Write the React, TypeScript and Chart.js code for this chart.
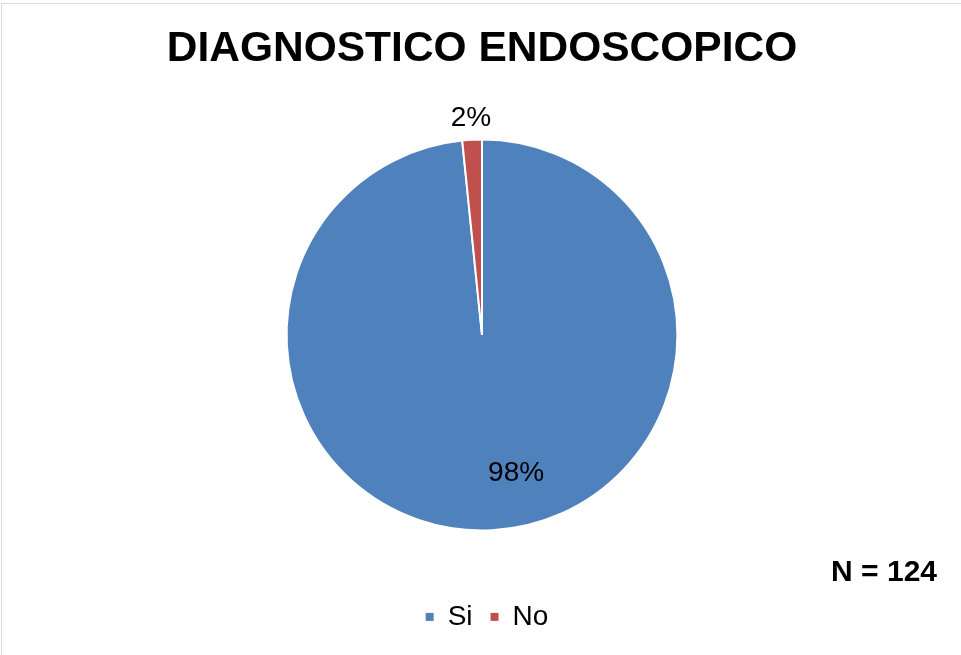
import React, { useEffect, useRef } from "react";
import { Chart, registerables } from "chart.js";

Chart.register(...registerables);

// ---- data ----
const categories = ["Si", "No"];
const counts = [122, 2];
const sliceColors = ["#4F81BD", "#C0504D"];
const chartTitle = "DIAGNOSTICO ENDOSCOPICO";
const sampleNote = "N = 124";

const FONT = "'Liberation Sans', Arial, Helvetica, sans-serif";

const framePlugin = {
  id: "frame",
  beforeDraw(chart: any) {
    const ctx = chart.ctx;
    ctx.save();
    ctx.fillStyle = "#d9d9d9";
    ctx.fillRect(1, 3, chart.width - 1, 1);
    ctx.fillRect(1, 3, 1, chart.height - 3);
    ctx.restore();
  },
};

// nudge the legend block slightly to the right, as in the reference
const legendShiftPlugin = {
  id: "legendShift",
  afterLayout(chart: any) {
    if (chart.legend) {
      chart.legend.left += 5;
      chart.legend.right += 5;
    }
  },
};

const pctLabelPlugin = {
  id: "pctLabels",
  afterDatasetsDraw(chart: any) {
    const ctx = chart.ctx;
    const meta = chart.getDatasetMeta(0);
    const values = chart.data.datasets[0].data as number[];
    const total = values.reduce((a: number, b: number) => a + b, 0);
    ctx.save();
    ctx.font = `28px ${FONT}`;
    ctx.fillStyle = "#000000";
    ctx.textAlign = "center";
    ctx.textBaseline = "middle";
    meta.data.forEach((el: any, i: number) => {
      const { x, y, startAngle, endAngle, outerRadius } = el.getProps(
        ["x", "y", "startAngle", "endAngle", "outerRadius"],
        true
      );
      const share = values[i] / total;
      const mid = (startAngle + endAngle) / 2;
      let ang: number;
      let dist: number;
      if (share > 0.5) {
        ang = mid - (11 * Math.PI) / 180;
        dist = outerRadius * 0.727;
      } else {
        ang = mid;
        dist = outerRadius + 22;
      }
      ctx.fillText(
        Math.round(share * 100) + "%",
        x + Math.cos(ang) * dist,
        y + Math.sin(ang) * dist
      );
    });
    ctx.restore();
  },
};

export default function App() {
  const canvasRef = useRef<HTMLCanvasElement | null>(null);

  useEffect(() => {
    if (!canvasRef.current) return;
    const chart = new Chart(canvasRef.current, {
      type: "pie",
      data: {
        labels: categories,
        datasets: [
          {
            data: counts,
            backgroundColor: sliceColors,
            borderColor: "#ffffff",
            borderWidth: 2,
            hoverBorderWidth: 2,
            hoverOffset: 0,
          },
        ],
      },
      options: {
        responsive: false,
        animation: false,
        devicePixelRatio: 1,
        events: [],
        layout: { padding: { left: 27, right: 24, top: 0, bottom: 14.1 } },
        plugins: {
          title: {
            display: true,
            text: chartTitle,
            color: "#000000",
            font: { family: FONT, size: 42.5, weight: "bold", lineHeight: 1.2 },
            padding: { top: 23.8, bottom: 63.8 },
          },
          subtitle: {
            display: true,
            text: sampleNote,
            position: "bottom",
            align: "end",
            weight: 500,
            color: "#000000",
            font: { family: FONT, size: 30, weight: "bold", lineHeight: 0.8 },
            padding: { top: 29.5, bottom: 0 },
          },
          legend: {
            display: true,
            position: "bottom",
            labels: {
              boxWidth: 8,
              boxHeight: 8,
              padding: 18,
              color: "#000000",
              font: { family: FONT, size: 28 },
              generateLabels(chart: any) {
                const items = Chart.overrides.pie.plugins.legend.labels.generateLabels(chart);
                return items.map((it: any) => ({
                  ...it,
                  lineWidth: 0,
                  strokeStyle: it.fillStyle,
                }));
              },
            },
          },
          tooltip: { enabled: false },
        },
      } as any,
      plugins: [framePlugin, legendShiftPlugin, pctLabelPlugin],
    });
    return () => chart.destroy();
  }, []);

  return (
    <div
      style={{
        position: "absolute",
        left: 0,
        top: 0,
        width: 961,
        height: 655,
        background: "#ffffff",
      }}
    >
      <canvas ref={canvasRef} width={961} height={655} />
    </div>
  );
}
